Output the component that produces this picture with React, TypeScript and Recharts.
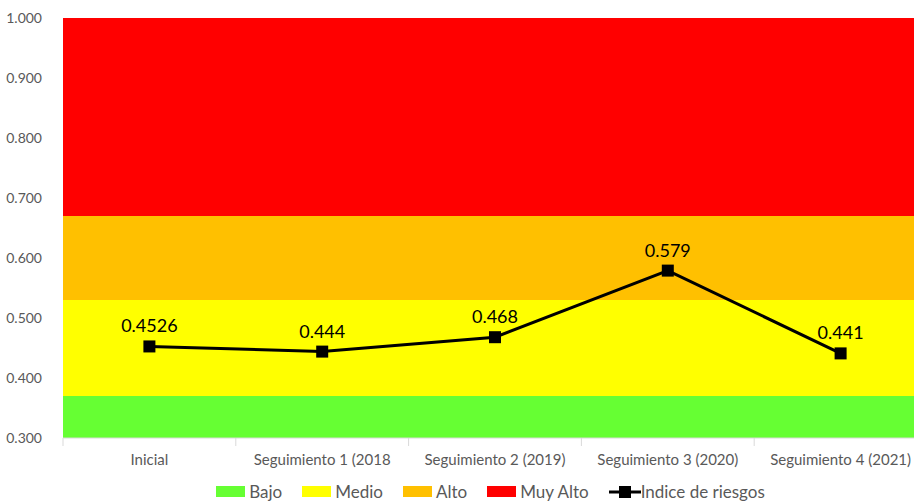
import React from "react";
import { ComposedChart, Line, XAxis, YAxis, ReferenceArea, LabelList, Legend } from "recharts";

const categories = ["Inicial", "Seguimiento 1 (2018", "Seguimiento 2 (2019)", "Seguimiento 3 (2020)", "Seguimiento 4 (2021)"];
const indiceValues = [0.4526, 0.444, 0.468, 0.579, 0.441];
const indiceLabels = ["0.4526", "0.444", "0.468", "0.579", "0.441"];

const bandNames = ["Bajo", "Medio", "Alto", "Muy Alto"];
const bandFrom = [0.3, 0.37, 0.53, 0.67];
const bandTo = [0.37, 0.53, 0.67, 1.0];
const bandColors = ["#66FF33", "#FFFF00", "#FFC000", "#FF0000"];

const yTicks = [0.3, 0.4, 0.5, 0.6, 0.7, 0.8, 0.9, 1.0];

const data = categories.map((name, i) => ({ name, indice: indiceValues[i], label: indiceLabels[i] }));

const FONT = "Lato, 'Open Sans', sans-serif";
const AXIS_GREY = "#D9D9D9";
const TEXT_GREY = "#595959";

function CategoryTick(props: any) {
  const { x, y, payload, index, visibleTicksCount } = props;
  const half = payload?.offset || 86;
  const last = index === (visibleTicksCount ?? categories.length) - 1;
  return (
    <g>
      <line x1={x - half} x2={x - half} y1={y - 8} y2={y} stroke={AXIS_GREY} />
      {last && <line x1={x + half} x2={x + half} y1={y - 8} y2={y} stroke={AXIS_GREY} />}
      <text x={x} y={y + 19} textAnchor="middle" fill={TEXT_GREY} fontSize={15} fontFamily={FONT}>
        {payload.value}
      </text>
    </g>
  );
}

function SquareDot(props: any) {
  const { cx, cy } = props;
  if (cx == null || cy == null) return null;
  return <rect x={cx - 6} y={cy - 6} width={12} height={12} fill="#000" />;
}

function LegendContent() {
  return (
    <div style={{ display: "flex", justifyContent: "center", alignItems: "center", fontFamily: FONT, fontSize: 17, color: TEXT_GREY, gap: 20, paddingLeft: 54, paddingTop: 7 }}>
      {bandNames.map((n, i) => (
        <span key={n} style={{ display: "flex", alignItems: "center" }}>
          <span style={{ display: "inline-block", width: 29, height: 11, background: bandColors[i], marginRight: 4 }} />
          {n}
        </span>
      ))}
      <span style={{ display: "flex", alignItems: "center" }}>
        <svg width={32} height={12}>
          <line x1={0} x2={32} y1={6} y2={6} stroke="#000" strokeWidth={3} />
          <rect x={10} y={0} width={12} height={12} fill="#000" />
        </svg>
        Indice de riesgos
      </span>
    </div>
  );
}

export default function App() {
  return (
    <div style={{ position: "absolute", left: 0, top: 0, width: 914, height: 502, background: "#fff", overflow: "hidden" }}>
      <ComposedChart width={914} height={502} data={data} margin={{ top: 18, right: -13, left: 0, bottom: 0 }}>
        {bandNames.map((n, i) => (
          <ReferenceArea key={n} y1={bandFrom[i]} y2={bandTo[i]} fill={bandColors[i]} fillOpacity={1} stroke="none" ifOverflow="hidden" />
        ))}
        <XAxis
          dataKey="name"
          scale="band"
          height={36}
          stroke={AXIS_GREY}
          tickLine={false}
          tick={<CategoryTick />}
          interval={0}
        />
        <YAxis
          width={63}
          domain={[0.3, 1.0]}
          ticks={yTicks}
          tickFormatter={(v: number) => v.toFixed(3)}
          axisLine={false}
          tickLine={false}
          tickMargin={15}
          tick={{ fill: TEXT_GREY, fontSize: 14, fontFamily: FONT }}
          allowDataOverflow
        />
        <Line
          dataKey="indice"
          stroke="#000"
          strokeWidth={3}
          dot={<SquareDot />}
          activeDot={false}
          isAnimationActive={false}
        >
          <LabelList dataKey="label" position="top" offset={14} fill="#000" fontSize={18} fontFamily={FONT} />
        </Line>
        <Legend verticalAlign="bottom" height={28} content={<LegendContent />} />
      </ComposedChart>
    </div>
  );
}
